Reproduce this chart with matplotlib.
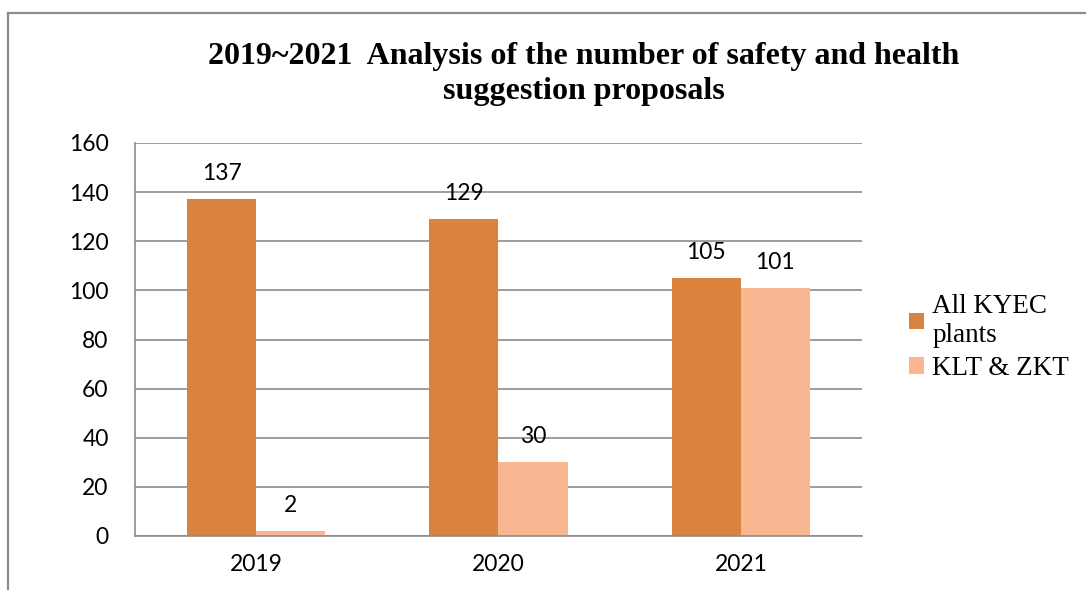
import matplotlib
matplotlib.use("Agg")
import matplotlib.pyplot as plt
from matplotlib.lines import Line2D
import numpy as np

years = ["2019", "2020", "2021"]
all_kyec = [137, 129, 105]
klt_zkt = [2, 30, 101]
series_names = ["All KYEC\nplants", "KLT & ZKT"]
title = "2019~2021  Analysis of the number of safety and health\nsuggestion proposals"

ORANGE = "#DA833F"
PALE = "#F9B791"
GRID = "#8C8C8C"
NUM_FONT = "Lato"
SERIF = "Liberation Serif"

fig = plt.figure(figsize=(10.86, 5.90), dpi=100)

# outer chart frame (only top and left visible in the crop)
fig.add_artist(Line2D([8 / 1086, 1], [1 - 13 / 590] * 2, color=GRID, lw=1.6))
fig.add_artist(Line2D([8 / 1086] * 2, [0, 1 - 13 / 590], color=GRID, lw=1.6))

ax = fig.add_axes([135 / 1086, 54 / 590, 727 / 1086, 393 / 590])

x = np.arange(len(years))
w = 0.285
b1 = ax.bar(x - w / 2, all_kyec, w, color=ORANGE, label=series_names[0])
b2 = ax.bar(x + w / 2, klt_zkt, w, color=PALE, label=series_names[1])

for bars, vals in [(b1, all_kyec), (b2, klt_zkt)]:
    for rect, v in zip(bars, vals):
        ax.annotate(str(v), (rect.get_x() + rect.get_width() / 2, v),
                    xytext=(0, 11), textcoords="offset points",
                    ha="center", va="bottom", fontsize=16.5, family=NUM_FONT)

ax.set_xlim(-0.5, 2.5)
ax.set_ylim(0, 160)
ax.set_yticks(range(0, 161, 20))
ax.set_xticks(x)
ax.set_xticklabels(years)
ax.tick_params(length=0, labelsize=16.5, pad=19)
for lab in ax.get_xticklabels() + ax.get_yticklabels():
    lab.set_family(NUM_FONT)
ax.tick_params(axis="x", pad=13)

ax.yaxis.grid(True, color=GRID, lw=1.2)
ax.set_axisbelow(True)
for s in ["top", "right"]:
    ax.spines[s].set_visible(False)
for s in ["left", "bottom"]:
    ax.spines[s].set_color(GRID)
    ax.spines[s].set_linewidth(1.2)

fig.text(584 / 1086, 1 - 42 / 590, title, ha="center", va="top",
         fontsize=23, fontweight="bold", family=SERIF, linespacing=1.28)

leg = ax.legend(loc="center left", bbox_to_anchor=(1.05, 0.505), frameon=False,
                prop={"family": SERIF, "size": 19.5}, handlelength=0.55,
                handleheight=0.55, handletextpad=0.3, labelspacing=0.3,
                borderaxespad=0)

fig.savefig("out.png", dpi=100)
